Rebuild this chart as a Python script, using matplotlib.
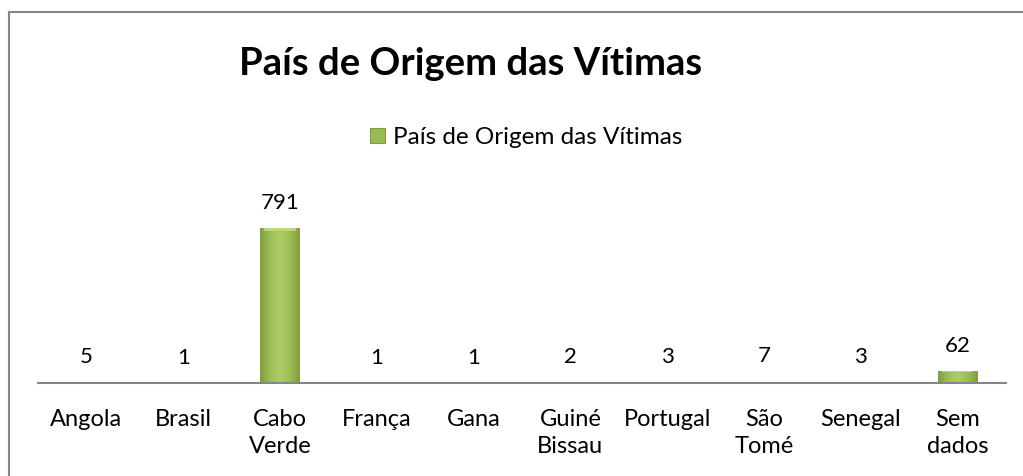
import matplotlib
matplotlib.use("Agg")
import matplotlib.pyplot as plt
import numpy as np
from matplotlib.colors import LinearSegmentedColormap

categories = ["Angola", "Brasil", "Cabo\nVerde", "França", "Gana", "Guiné\nBissau",
              "Portugal", "São\nTomé", "Senegal", "Sem\ndados"]
values = [5, 1, 791, 1, 1, 2, 3, 7, 3, 62]
title = "País de Origem das Vítimas"
series_name = "País de Origem das Vítimas"

plt.rcParams['font.family'] = ['Lato', 'DejaVu Sans']

W, H = 1023, 476
fig = plt.figure(figsize=(W / 100, H / 100), dpi=100)
fig.patch.set_facecolor("white")

# axes: x from 38 to 1006 px, bottom at y=383, top at y=170
left, right, bottom, top = 38, 1006, 383, 170
ax = fig.add_axes([left / W, 1 - bottom / H, (right - left) / W, (bottom - top) / H])
ymax = 791 * (bottom - top) / 155.0
x = np.arange(len(categories))
ax.set_xlim(-0.5, len(categories) - 0.5)
ax.set_ylim(0, ymax)

cmap = LinearSegmentedColormap.from_list("g", ["#7f9e3c", "#9dbd55", "#aecd66", "#9dbd55", "#7f9e3c"])
bars = ax.bar(x, values, width=0.41, color="#9bbb59", edgecolor="none", zorder=2)
grad = np.linspace(0, 1, 256).reshape(1, -1)
for b in bars:
    bx, by = b.get_x(), b.get_y()
    bw, bh = b.get_width(), b.get_height()
    im = ax.imshow(grad, cmap=cmap, aspect="auto", extent=[bx, bx + bw, by, by + bh],
                   zorder=3, interpolation="bicubic")
    im.set_clip_path(b)
    hh = min(bh * 0.08, ymax * 0.012)
    ax.bar(bx + bw / 2, hh, bottom=by + bh - hh, width=bw * 0.8, color="#c4dd84",
           edgecolor="none", zorder=4, alpha=0.8)

for xi, v in zip(x, values):
    ax.annotate(str(v), (xi, v), xytext=(0, 11), textcoords="offset points",
                ha="center", va="bottom", fontsize=16, color="#000000")

for s in ["top", "right", "left"]:
    ax.spines[s].set_visible(False)
ax.spines["bottom"].set_color("#868686")
ax.spines["bottom"].set_linewidth(1.5)
ax.spines["bottom"].set_zorder(5)
ax.set_yticks([])
ax.set_xticks(x)
ax.set_xticklabels(categories, fontsize=17, linespacing=1.35)
ax.tick_params(axis="x", length=0, pad=19)

fig.text((245 + 697) / 2 / W, 1 - 64 / H, title, ha="center", va="center",
         fontsize=27.5, fontweight="bold")

# legend
fig.patches.append(plt.Rectangle((370 / W, 1 - 143 / H), 15 / W, 15 / H,
                                 transform=fig.transFigure, facecolor="#9bbb59",
                                 edgecolor="#7f9e3c", linewidth=0.8))
fig.text(393 / W, 1 - 137 / H, series_name, ha="left", va="center", fontsize=17.5)

# chart border (left and top)
fig.add_artist(plt.Line2D([8.5 / W, 8.5 / W], [0, 1 - 12 / H], transform=fig.transFigure,
                          color="#868686", linewidth=1.5))
fig.add_artist(plt.Line2D([8.5 / W, 1], [1 - 12 / H, 1 - 12 / H], transform=fig.transFigure,
                          color="#868686", linewidth=1.5))

fig.savefig("out.png", dpi=100)
